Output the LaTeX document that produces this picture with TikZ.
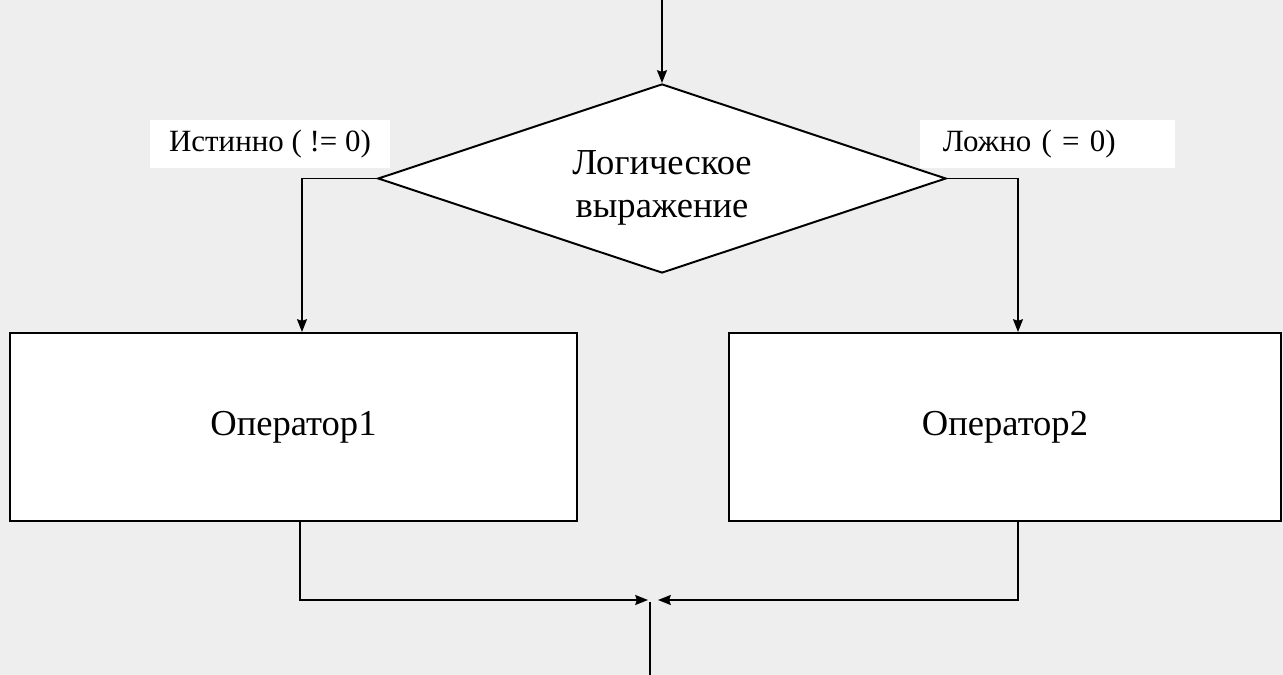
\documentclass[tikz,border=0pt]{standalone}
\usepackage{fontspec}
\setmainfont{Liberation Serif}
\usetikzlibrary{arrows.meta,shapes.geometric}
\definecolor{fon}{RGB}{238,238,238}
\tikzset{
	blok/.style = {rectangle, draw=black, fill=white, line width=1.4pt,
		minimum width=14.175cm, minimum height=4.7cm, align=center,
		font=\fontsize{26}{30.5}\selectfont},% operator
	romb/.style = {diamond, draw=black, fill=white, line width=1.4pt, inner sep=0pt,
		minimum width=14.2cm, minimum height=4.725cm},% uslovie
	metka/.style = {rectangle, fill=white, inner sep=0pt, minimum height=1.2cm,
		font=\fontsize{22}{24}\selectfont}% podpis vetki
}
\begin{document}
\begin{tikzpicture}[x=0.025cm, y=-0.025cm, ->, >={Stealth[length=9pt,width=7pt,inset=1pt]}, line width=1.4pt]
	\fill[fon] (0,0) rectangle (1283,675);
	\useasboundingbox (0,0) rectangle (1283,675);
	\coordinate (vhod) at (662,0);
	\node [romb] (uslovie) at (662,178.5) {};
	\node [align=center, font=\fontsize{26}{30.5}\selectfont] (uslovie-tekst) at (662,188) {Логическое\\выражение};
	\node [blok] (op1) at (293.5,427) {Оператор1};
	\node [blok, minimum width=13.8cm] (op2) at (1005,427) {Оператор2};
	\node [metka, minimum width=6cm] (istina) at (270,144) {Истинно ( != 0)};
	\node [metka, minimum width=6.375cm, text width=5.225cm, align=left] (lozh) at (1047.5,144) {Ложно ( = 0)};
	\coordinate (slijanie) at (650,600);
	\coordinate (vyhod) at (650,675);
	\draw (vhod) -- (uslovie.north);
	\draw (uslovie.west) -- (302,178.5) -- (op1.north -| 302,0);
	\draw (uslovie.east) -- (1018,178.5) -- (op2.north -| 1018,0);
	\draw (op1.south -| 300,0) -- (300,600) -- ([xshift=-0.05cm]slijanie);
	\draw (op2.south -| 1018,0) -- (1018,600) -- ([xshift=0.2cm]slijanie);
	\draw[-] ([yshift=-0.05cm]slijanie) -- (vyhod);
\end{tikzpicture}
\end{document}
